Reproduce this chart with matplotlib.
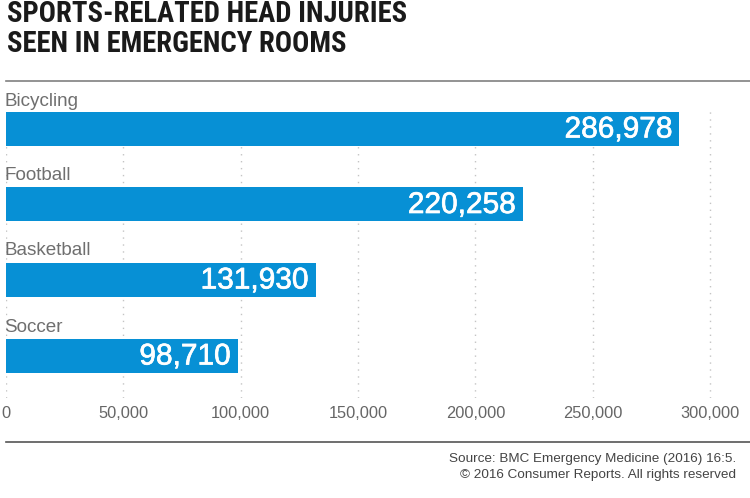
import matplotlib
matplotlib.use('Agg')
import matplotlib.pyplot as plt
import matplotlib.patheffects as pe

plt.rcParams['font.family'] = ['Liberation Sans', 'DejaVu Sans']

sports = ['Bicycling', 'Football', 'Basketball', 'Soccer']
injuries = [286978, 220258, 131930, 98710]
xticks = [0, 50000, 100000, 150000, 200000, 250000, 300000]

W, H = 750, 498
fig = plt.figure(figsize=(W / 100, H / 100), dpi=100)

# plot area in pixels: x=0 at 6px, 300,000 at 710px
left, right = 6, 744
top, bottom = 108, 398
ax = fig.add_axes([left / W, 1 - bottom / H, (right - left) / W, (bottom - top) / H])
ax.set_xlim(0, (right - left) / (704 / 300000))
ax.set_ylim(bottom, top)

bar_centers = [129, 204.5, 280, 356]
label_y = [101, 175, 250, 327]

ax.barh(bar_centers, injuries, height=34, color='#0790d5', zorder=3)

for x in xticks:
    ax.axvline(x, color='#c4c4c4', lw=1, ls=(0, (1, 4)), zorder=1)

for name, v, c, ly in zip(sports, injuries, bar_centers, label_y):
    t = ax.text(v - 3100, c + 0.5, f'{v:,}', color='white', fontsize=21.5, ha='right', va='center', zorder=4)
    t.set_path_effects([pe.withStroke(linewidth=0.5, foreground='white')])
    fig.text(4.5 / W, 1 - ly / H, name, color='#6f6f6f', fontsize=13.6, ha='left', va='center')

ax.set_xticks([])
ax.set_yticks([])
for s in ax.spines.values():
    s.set_visible(False)

for x in xticks:
    px = (left + x * 704 / 300000)
    fig.text(px / W, 1 - 413 / H, f'{x:,}', color='#666666', fontsize=11.8, ha='center', va='center')

title_font = ['Roboto Condensed', 'Barlow Semi Condensed', 'Liberation Sans']
fig.text(7 / W, 1 - 14 / H, 'SPORTS-RELATED HEAD INJURIES', fontsize=20.6, fontweight='bold', family=title_font, color='#1a1a1a', ha='left', va='center')
fig.text(7 / W, 1 - 44 / H, 'SEEN IN EMERGENCY ROOMS', fontsize=20.6, fontweight='bold', family=title_font, color='#1a1a1a', ha='left', va='center')

# rules above and below the chart
fig.add_artist(plt.Line2D([6 / W, 1], [1 - 81 / H] * 2, color='#808080', lw=1.2))
fig.add_artist(plt.Line2D([6 / W, 1], [1 - 442 / H] * 2, color='#555555', lw=1.2))

fig.text(736 / W, 1 - 459 / H, 'Source: BMC Emergency Medicine (2016) 16:5.', fontsize=9.7, color='#444444', ha='right', va='center')
fig.text(736 / W, 1 - 475 / H, '© 2016 Consumer Reports. All rights reserved', fontsize=9.7, color='#444444', ha='right', va='center')

fig.savefig('out.png', dpi=100)
